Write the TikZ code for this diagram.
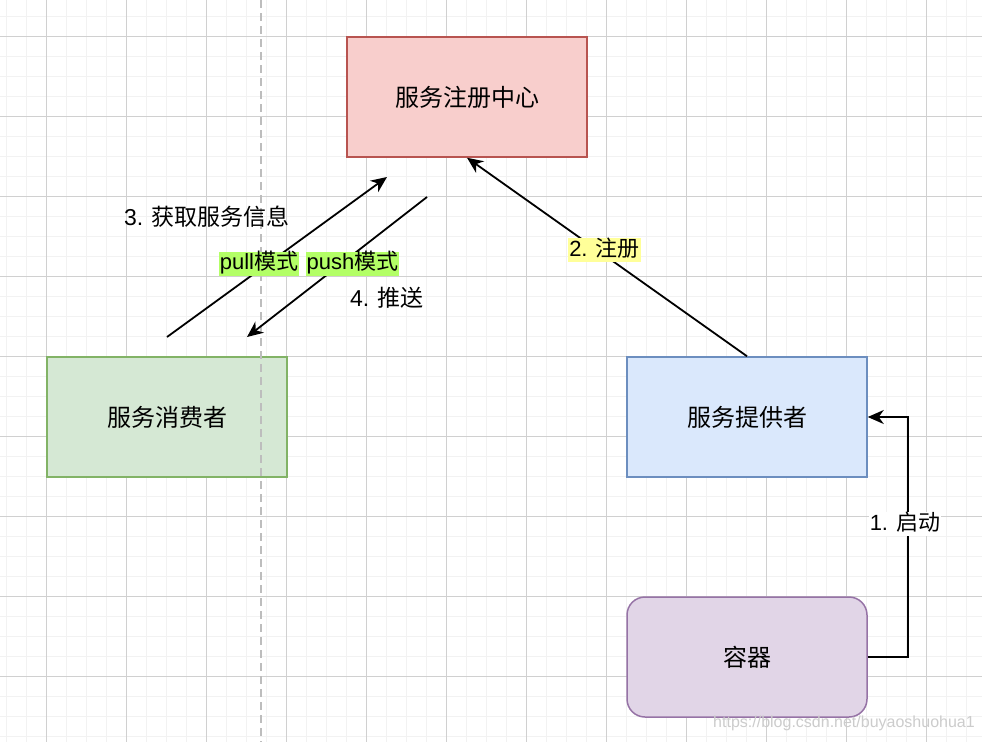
\documentclass[tikz,border=0pt]{standalone}
\usepackage{fontspec}
\setmainfont{Liberation Sans}
\newfontfamily\cjk{Noto Sans CJK SC}
\usetikzlibrary{arrows.meta}
\definecolor{gridminor}{HTML}{F2F2F2}
\definecolor{gridmajor}{HTML}{D0D0D0}
\definecolor{redfill}{HTML}{F8CECC}
\definecolor{redline}{HTML}{B85450}
\definecolor{greenfill}{HTML}{D5E8D4}
\definecolor{greenline}{HTML}{82B366}
\definecolor{bluefill}{HTML}{DAE8FC}
\definecolor{blueline}{HTML}{6C8EBF}
\definecolor{purplefill}{HTML}{E1D5E7}
\definecolor{purpleline}{HTML}{9673A6}
\definecolor{limebg}{HTML}{B3FF66}
\definecolor{yellowbg}{HTML}{FFFF99}
\definecolor{dashgray}{HTML}{BDBDBD}
\begin{document}
\begin{tikzpicture}[x=1pt,y=-1pt,
  minorline/.style={draw=gridminor,line width=1.6pt},
  majorline/.style={draw=gridmajor,line width=1pt},
  box/.style={minimum width=240pt,minimum height=120pt,line width=1.5pt,inner sep=0pt,
    font=\fontsize{24}{28}\selectfont\cjk},
  arr/.style={line width=1.8pt,-{Stealth[length=16pt,width=14pt,inset=5pt]}},
  lbl/.style={font=\fontsize{22}{26}\selectfont,inner xsep=1pt,inner ysep=1pt,text height=17pt,text depth=5pt},
  plain/.style={font=\fontsize{23}{27}\selectfont,inner sep=0pt}
]
\useasboundingbox (0,0) rectangle (982,742);
\fill[white] (0,0) rectangle (982,742);
% grid
\foreach \x in {6.5,26.5,...,982} \draw[minorline] (\x,0) -- (\x,742);
\foreach \y in {16.5,36.5,...,742} \draw[minorline] (0,\y) -- (982,\y);
\foreach \x in {46.5,126.5,...,982} \draw[majorline] (\x,0) -- (\x,742);
\foreach \y in {36.5,116.5,...,742} \draw[majorline] (0,\y) -- (982,\y);

% boxes
\node[box,fill=redfill,draw=redline] (reg) at (467,97) {服务注册中心};
\node[box,fill=greenfill,draw=greenline] (cons) at (167,417) {服务消费者};
\node[box,fill=bluefill,draw=blueline] (prov) at (747,417) {服务提供者};
\node[box,fill=purplefill,draw=purpleline,rounded corners=18pt] (cont) at (747,657) {容器};

% dashed guide line
\draw[dashgray,line width=1.8pt,dash pattern=on 8pt off 5pt] (261,0) -- (261,742);

% connectors
\draw[arr] (prov.north) -- (reg.south);
\coordinate (pullS) at (167,337);
\coordinate (pullE) at (387,177);
\coordinate (pushS) at (427,197);
\coordinate (pushE) at (247,337);
\draw[arr] (pullS) -- (pullE);
\draw[arr] (pushS) -- (pushE);
\draw[arr,rounded corners=0pt] (cont.east) -- ++(40,0) |- (prov.east);

% labels
\node[lbl,fill=yellowbg] (lreg) at (604.5,250) {2. {\cjk 注册}};
\node[lbl,fill=limebg] (lpull) at (259,263.5) {pull{\cjk 模式}};
\node[lbl,fill=limebg] (lpush) at (352.5,263.5) {push{\cjk 模式}};
\node[lbl,fill=white] (lstart) at (905,524) {1. {\cjk 启动}};
\node[plain] (lget) at (207,217) {3. {\cjk 获取服务信息}};
\node[plain] (lpushtxt) at (387,298) {4. {\cjk 推送}};

% watermark
\node[text=gray!40,font=\fontsize{16}{18}\selectfont,inner sep=0pt] (wm) at (844,723) {https://blog.csdn.net/buyaoshuohua1};
\end{tikzpicture}
\end{document}
